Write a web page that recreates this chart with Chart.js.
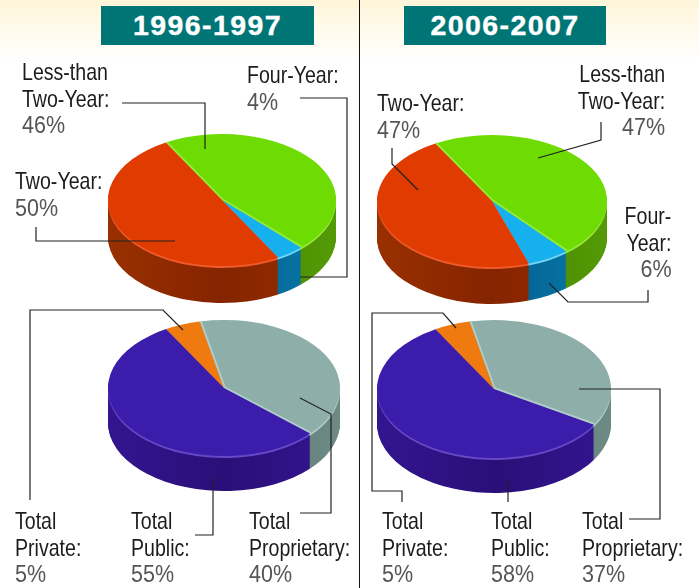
<!DOCTYPE html>
<html>
<head>
<meta charset="utf-8">
<script src="https://cdn.jsdelivr.net/npm/chart.js@4/dist/chart.umd.min.js"></script>
<style>
html,body{margin:0;padding:0;background:#fff;overflow:hidden}
#page{position:relative;width:699px;height:588px;overflow:hidden;
 background:linear-gradient(180deg,#fff6d9 0px,#fffbee 35px,#ffffff 62px);}
canvas{position:absolute;filter:blur(.4px)}
#divider{position:absolute;left:359px;top:0;width:1px;height:588px;background:#111}
.head{position:absolute;top:6px;height:39px;background:#007576;color:#fff;text-align:center;
 font:bold 28.5px/38px "Liberation Sans",Arial,sans-serif;letter-spacing:1.4px;-webkit-text-stroke:.4px #fff}
.lbl{position:absolute;font-family:"Liberation Sans",sans-serif;font-size:24px;line-height:26.5px;color:#1c1c1c;white-space:nowrap;transform:scaleX(.815);transform-origin:0 0}
.lbl.r{transform-origin:100% 0;text-align:right}
.lbl .pct{color:#555;display:inline-block;transform:scaleX(1.1);transform-origin:0 0}
.lbl.r .pct{transform-origin:100% 0}
svg{position:absolute;left:0;top:0}
</style>
</head>
<body>
<div id="page">
<div id="divider"></div>
</div>
<script>
// ---- data ----
const periods = ["1996-1997", "2006-2007"];
const levelCategories = ["Less-than Two-Year", "Four-Year", "Two-Year"];
const controlCategories = ["Total Private", "Total Proprietary", "Total Public"];
const levels9697 = [46, 4, 50];
const levels0607 = [47, 6, 47];
const control9697 = [5, 40, 55];
const control0607 = [5, 37, 58];

// ---- styles ----
const levelTop  = ["#6edc02", "#17b0ee", "#e03b00"];
const levelEdge = ["#97ea3e", "#6fd4f8", "#ee5a2a"];
const levelSide = [["#549a06","#468500"], ["#0a7bab","#005f8e"], ["#993000","#852400"]];
const levelGlint = [true, false, false];
const controlTop  = ["#ee7a10", "#8eaeaa", "#3b1cab"];
const controlEdge = ["#f8a860", "#b4cfcb", "#6448c4"];
const controlSide = [["#a85008","#a85008"], ["#6d8a85","#5d7672"], ["#331590","#2a0f78"]];
const controlGlint = [false, true, false];

// ---- layout ----
const pies = [
 {labels:levelCategories,  values:levels9697,  top:levelTop,  edge:levelEdge,  side:levelSide,  glint:levelGlint,  cx:222,cy:200,rx:114,ry:66,depth:37,rot:-29.5},
 {labels:levelCategories,  values:levels0607,  top:levelTop,  edge:levelEdge,  side:levelSide,  glint:levelGlint,  cx:492,cy:201,rx:115,ry:66,depth:37,rot:-29.5},
 {labels:controlCategories,values:control9697, top:controlTop,edge:controlEdge,side:controlSide,glint:controlGlint,cx:224,cy:388,rx:116,ry:68,depth:35,rot:-30},
 {labels:controlCategories,values:control0607, top:controlTop,edge:controlEdge,side:controlSide,glint:controlGlint,cx:494,cy:389,rx:117,ry:69,depth:35,rot:-30}
];
const page = document.getElementById("page");

const flatten3D = {
  id:"flatten3D",
  beforeDatasetDraw(chart,args,opts){
    const ctx = chart.ctx, arcs = chart.getDatasetMeta(args.index).data;
    const c = chart.width/2, k = opts.ry/opts.rx;
    const place = d => { ctx.setTransform(1,0,0,1,0,0); ctx.translate(c,c+d); ctx.scale(1,k); ctx.translate(-c,-c); };
    const paint = (colours,d) => {
      place(d);
      arcs.forEach((arc,i)=>{
        const o = arc.options, t = Object.create(o);
        t.backgroundColor = colours[i]; t.borderWidth = 0;
        arc.options = t; arc.draw(ctx); arc.options = o;
      });
    };
    ctx.save();
    const grads = opts.side.map(s=>{
      const g = ctx.createLinearGradient(c-opts.rx,0,c+opts.rx,0);
      g.addColorStop(0,s[0]); g.addColorStop(.5,s[1]); g.addColorStop(1,s[0]);
      return g;
    });
    for(let d=opts.depth;d>=3;d--) paint(grads,d);
    paint(opts.edge,2);
    place(0);
  },
  afterDatasetDraw(chart,args,opts){
    const ctx = chart.ctx, arcs = chart.getDatasetMeta(args.index).data;
    const c = chart.width/2, k = opts.ry/opts.rx;
    ctx.setTransform(1,0,0,1,0,0);
    ctx.lineWidth = 1.6; ctx.lineCap = "butt";
    arcs.forEach((arc,i)=>{
      if(!opts.glint[i]) return;
      [[arc.startAngle,1],[arc.endAngle,-1]].forEach(([a,s])=>{
        const ex = Math.cos(a)*arc.outerRadius, ey = Math.sin(a)*arc.outerRadius*k;
        const len = Math.hypot(ex,ey), nx = -ey/len*s, ny = ex/len*s;
        ctx.strokeStyle = opts.edge[i];
        ctx.beginPath();
        ctx.moveTo(c+nx,c+ny);
        ctx.lineTo(c+ex+nx,c+ey+ny);
        ctx.stroke();
      });
    });
    ctx.restore();
  }
};

pies.forEach(p=>{
  const size = 2*p.rx+8;
  const cv = document.createElement("canvas");
  cv.width = size; cv.height = size;
  cv.style.cssText = `left:${p.cx-size/2}px;top:${p.cy-size/2}px;width:${size}px;height:${size}px`;
  page.appendChild(cv);
  new Chart(cv,{
    type:"pie",
    data:{labels:p.labels,datasets:[{data:p.values,backgroundColor:p.top,borderWidth:0,radius:p.rx,clip:false}]},
    options:{responsive:false,animation:false,rotation:p.rot,layout:{padding:0},
      plugins:{legend:{display:false},tooltip:{enabled:false},
        flatten3D:{rx:p.rx,ry:p.ry,depth:p.depth,side:p.side,edge:p.edge,glint:p.glint}}},
    plugins:[flatten3D]
  });
});

// ---- headers ----
[[101,213],[404,202]].forEach((b,i)=>{
  const h = document.createElement("div");
  h.className="head"; h.textContent=periods[i];
  h.style.left=b[0]+"px"; h.style.width=b[1]+"px";
  page.appendChild(h);
});

// ---- leader lines ----
const leaders = [
 "122,103 205,103 205,149",
 "300,98 347,98 347,277 300,277",
 "36,227 36,241 175,241",
 "392,148 392,164 418,190",
 "601,122 601,140 538,158",
 "549,283 568,302 648,302 648,290",
 "30,500 30,310 163,310 183,330",
 "195,535 213,535 213,478",
 "300,513 331,513 331,414 300,398",
 "402,502 402,491 372,491 372,313 443,313 456,328",
 "508,481 508,502",
 "579,389 660,389 660,519 629,519"
];
const svgNS="http://www.w3.org/2000/svg";
const svg=document.createElementNS(svgNS,"svg");
svg.setAttribute("width",699);svg.setAttribute("height",588);
leaders.forEach(pts=>{
  const l=document.createElementNS(svgNS,"polyline");
  l.setAttribute("points",pts);l.setAttribute("fill","none");
  l.setAttribute("stroke","#222");l.setAttribute("stroke-width","1.2");
  svg.appendChild(l);
});
page.appendChild(svg);

// ---- text labels ----
const texts = [
 {lines:["Less-than","Two-Year:"],v:levels9697[0],x:22,base:79},
 {lines:["Four-Year:"],v:levels9697[1],x:247,base:82},
 {lines:["Two-Year:"],v:levels9697[2],x:15,base:188},
 {lines:["Two-Year:"],v:levels0607[2],x:377,base:110},
 {lines:["Less-than","Two-Year:"],v:levels0607[0],right:665,base:81},
 {lines:["Four-","Year:"],v:levels0607[1],right:671,base:223},
 {lines:["Total","Private:"],v:control9697[0],x:15,base:528},
 {lines:["Total","Public:"],v:control9697[2],x:131,base:528},
 {lines:["Total","Proprietary:"],v:control9697[1],x:249,base:528},
 {lines:["Total","Private:"],v:control0607[0],x:382,base:528},
 {lines:["Total","Public:"],v:control0607[2],x:491,base:528},
 {lines:["Total","Proprietary:"],v:control0607[1],x:582,base:528}
];
texts.forEach(t=>{
  const d=document.createElement("div");
  d.className="lbl";
  d.innerHTML=t.lines.join("<br>")+`<br><span class="pct">${t.v}%</span>`;
  d.style.top=(t.base-20)+"px";
  if(t.right!==undefined){d.classList.add("r");d.style.right=(699-t.right)+"px";}
  else d.style.left=t.x+"px";
  page.appendChild(d);
});
</script>
</body>
</html>
